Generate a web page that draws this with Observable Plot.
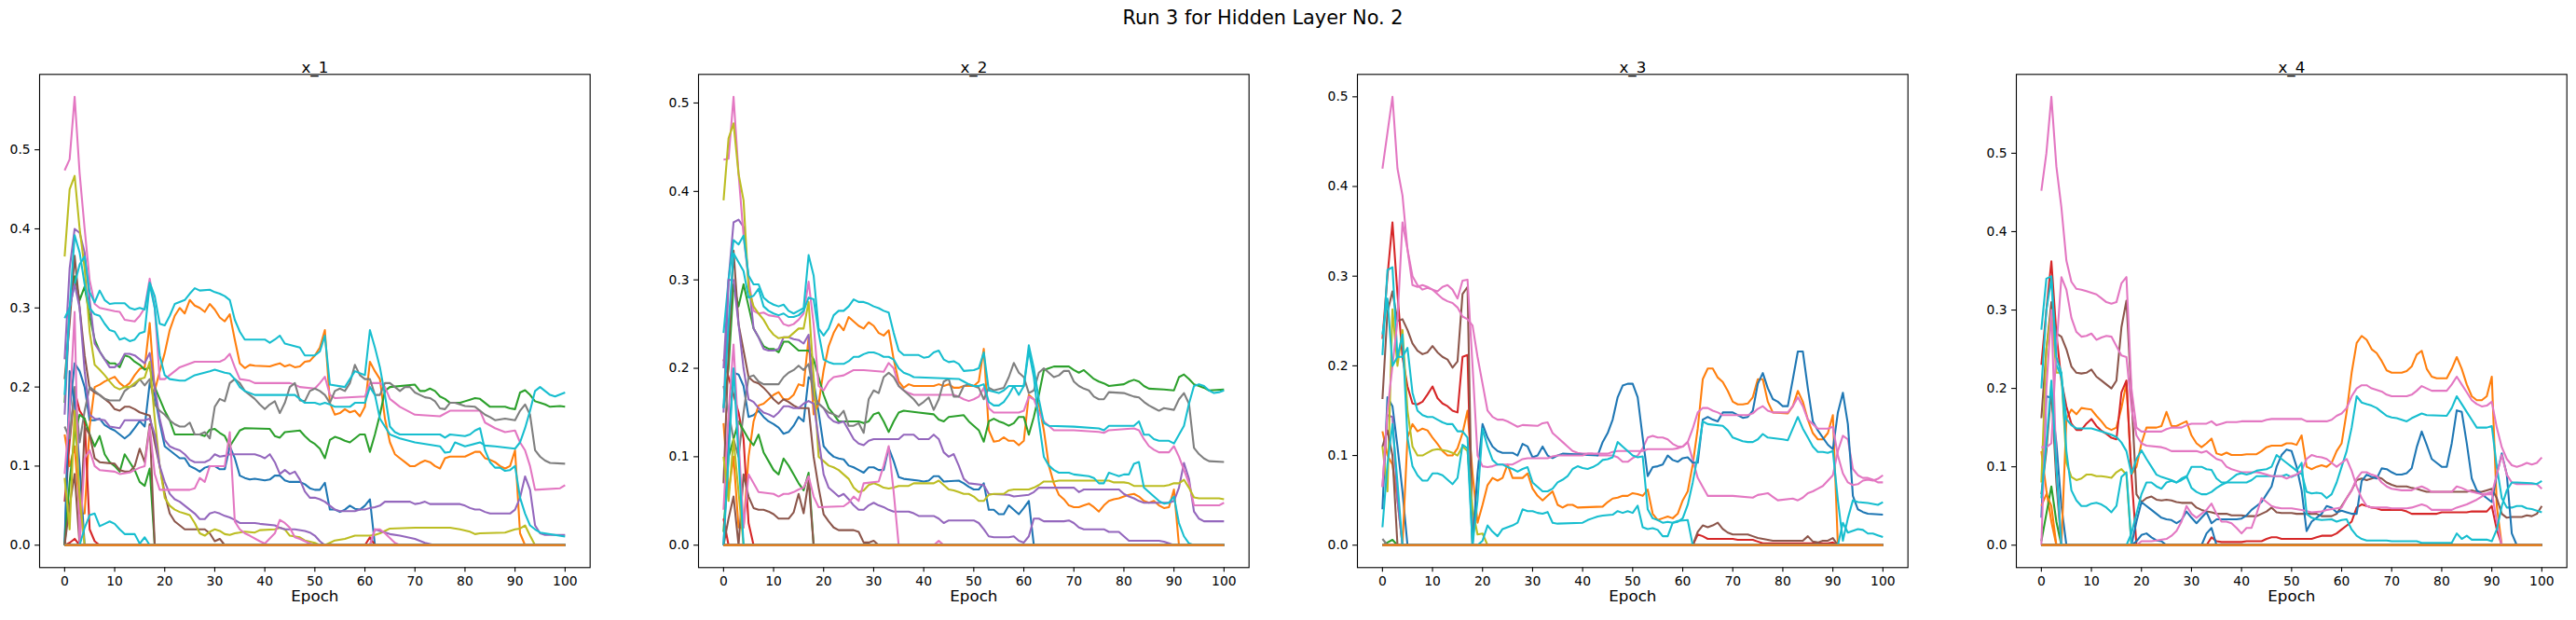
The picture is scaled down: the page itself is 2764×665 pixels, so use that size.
<!DOCTYPE html>
<html><head><meta charset="utf-8">
<script src="https://cdn.jsdelivr.net/npm/d3@7"></script>
<script src="https://cdn.jsdelivr.net/npm/@observablehq/plot@0.6"></script>
<style>
body{margin:0;background:#fff;}
#fig{position:relative;width:2764px;height:665px;background:#fff;overflow:hidden;}
.panel{position:absolute;top:0;}
#sup{position:absolute;left:0;top:0;}
</style></head><body><div id="fig"></div>
<script>
const tab10 = ["#1f77b4","#ff7f0e","#2ca02c","#d62728","#9467bd","#8c564b","#e377c2","#7f7f7f","#bcbd22","#17becf"];
const suptitle = "Run 3 for Hidden Layer No. 2";
const panelTitles = ["x_1","x_2","x_3","x_4"];
const xLabel = "Epoch";
const xTicks = [0,10,20,30,40,50,60,70,80,90,100];
const yTicks = [0,0.1,0.2,0.3,0.4,0.5];
const nSlots = 32;

// Each entry: [slot index (colour = tab10[slot % 10]), [epoch, value, epoch, value, ...]]
// Slots that are not listed stay at 0.0 for all epochs.
const x1Lines = [
[0,[0,0,1,0.17,2,0.23,3,0.22,4,0.2,5,0.158,6,0.158,7,0.16,8,0.152,9,0.148,10,0.145,11,0.14,12,0.135,13,0.14,14,0.148,15,0.157,16,0.15,17,0.205,18,0.19,19,0.155,20,0.125,21,0.12,22,0.115,23,0.11,24,0.11,25,0.1,26,0.097,27,0.093,28,0.098,29,0.1,30,0.1,31,0.096,32,0.096,33,0.125,34,0.11,35,0.088,36,0.085,37,0.083,38,0.084,40,0.082,41,0.083,42,0.088,43,0.088,44,0.082,45,0.08,47,0.08,48,0.077,49,0.072,50,0.07,51,0.07,52,0.079,53,0.045,54,0.045,55,0.042,56,0.045,57,0.05,58,0.046,59,0.045,60,0.05,61,0.058,62,0,100,0]],
[1,[0,0.14,1,0.1,2,0.125,3,0.04,4,0.04,5,0.15,6,0.2,7,0.203,8,0.207,9,0.21,10,0.213,11,0.205,12,0.2,13,0.205,14,0.215,15,0.223,16,0.225,17,0.281,18,0.195,19,0.22,20,0.243,21,0.272,22,0.29,23,0.3,24,0.293,25,0.31,26,0.303,27,0.3,28,0.295,29,0.305,30,0.298,31,0.288,32,0.283,33,0.292,34,0.26,35,0.23,36,0.224,37,0.228,38,0.227,41,0.226,42,0.228,43,0.23,44,0.226,45,0.228,46,0.225,47,0.226,48,0.232,49,0.233,50,0.24,51,0.25,52,0.272,53,0.18,54,0.165,55,0.167,56,0.172,57,0.168,58,0.17,59,0.163,60,0.175,61,0.232,62,0.22,63,0.21,64,0.16,65,0.13,66,0.115,67,0.11,68,0.105,69,0.1,70,0.1,71,0.104,72,0.107,73,0.105,74,0.1,75,0.097,76,0.11,77,0.112,80,0.112,81,0.115,82,0.118,83,0.118,84,0.11,85,0.108,86,0.105,87,0.1,88,0.097,89,0.1,90,0.12,91,0.015,92,0,100,0]],
[2,[0,0.18,1,0.3,2,0.34,3,0.31,4,0.327,5,0.29,6,0.26,7,0.245,8,0.235,9,0.23,10,0.23,11,0.225,12,0.24,13,0.238,14,0.232,15,0.228,16,0.222,17,0.225,18,0.2,19,0.185,20,0.17,21,0.158,22,0.14,27,0.14,28,0.138,29,0.146,30,0.147,31,0.142,32,0.138,33,0.125,34,0.135,35,0.145,36,0.148,41,0.147,42,0.138,43,0.136,44,0.143,47,0.145,48,0.138,49,0.132,50,0.128,51,0.122,52,0.11,53,0.133,54,0.137,55,0.135,56,0.132,57,0.13,58,0.135,59,0.14,60,0.14,61,0.118,62,0.14,63,0.165,64,0.195,65,0.2,70,0.203,71,0.195,72,0.195,73,0.198,74,0.195,75,0.188,76,0.185,77,0.18,79,0.18,80,0.182,81,0.184,82,0.186,83,0.185,84,0.18,85,0.175,88,0.175,89,0.173,90,0.172,91,0.193,92,0.196,93,0.19,94,0.182,95,0.18,96,0.178,97,0.175,99,0.176,100,0.175]],
[3,[0,0.055,1,0.13,2,0.195,3,0.17,4,0.16,5,0.02,6,0.005,7,0,100,0]],
[4,[0,0.235,1,0.35,2,0.4,3,0.395,4,0.37,5,0.31,6,0.255,7,0.245,8,0.235,9,0.225,10,0.225,11,0.23,12,0.242,13,0.242,14,0.24,15,0.235,16,0.23,17,0.243,18,0.2,19,0.16,20,0.133,21,0.125,22,0.122,23,0.12,24,0.115,25,0.108,26,0.105,28,0.105,29,0.108,30,0.115,31,0.112,32,0.113,33,0.115,38,0.115,39,0.113,40,0.11,41,0.115,42,0.105,43,0.09,44,0.095,45,0.09,46,0.093,47,0.083,48,0.068,49,0.06,50,0.06,51,0.058,52,0.055,53,0.05,54,0.045,55,0.043,58,0.043,59,0.045,60,0.045,61,0.047,62,0.048,63,0.05,64,0.055,69,0.055,70,0.052,71,0.053,72,0.055,73,0.052,79,0.052,80,0.05,81,0.047,82,0.045,83,0.045,84,0.042,85,0.04,89,0.04,90,0.045,91,0.06,92,0.087,93,0.07,94,0.025,95,0.015,96,0.013,100,0.013]],
[5,[0,0.21,1,0.28,2,0.366,3,0.3,4,0.24,5,0.198,6,0.193,7,0.19,8,0.185,9,0.18,10,0.172,11,0.17,12,0.175,13,0.175,14,0.172,15,0.168,16,0.166,17,0.164,18,0.13,19,0.1,20,0.065,21,0.04,22,0.03,23,0.025,24,0.02,28,0.02,29,0.015,30,0.005,31,0.008,32,0,100,0]],
[6,[0,0.474,1,0.488,2,0.567,3,0.47,4,0.4,5,0.335,6,0.305,7,0.3,10,0.296,11,0.295,12,0.285,14,0.283,15,0.29,16,0.3,17,0.337,18,0.3,19,0.21,20,0.21,21,0.215,22,0.22,23,0.225,26,0.232,31,0.232,32,0.235,33,0.242,34,0.225,35,0.21,37,0.208,38,0.205,45,0.205,46,0.203,47,0.2,50,0.198,51,0.205,52,0.213,53,0.19,54,0.186,60,0.188,61,0.205,63,0.205,64,0.2,65,0.185,67,0.175,70,0.165,75,0.163,77,0.17,83,0.17,84,0.155,86,0.148,88,0.143,90,0.145,91,0.13,92,0.12,93,0.1,94,0.07,99,0.072,100,0.076]],
[7,[0,0.15,1,0.135,2,0.2,3,0.13,4,0.17,5,0.2,6,0.195,7,0.19,8,0.185,9,0.183,11,0.183,12,0.195,13,0.2,14,0.202,15,0.21,16,0.202,17,0.21,18,0.178,19,0.17,20,0.165,21,0.158,22,0.153,23,0.15,24,0.15,25,0.155,26,0.14,27,0.14,28,0.143,29,0.135,30,0.175,31,0.185,32,0.182,33,0.205,34,0.21,35,0.205,36,0.195,37,0.19,38,0.185,39,0.178,40,0.172,41,0.178,42,0.182,43,0.167,44,0.18,45,0.2,46,0.205,47,0.183,48,0.182,49,0.195,50,0.198,51,0.195,52,0.19,53,0.18,54,0.195,55,0.198,56,0.195,57,0.205,58,0.228,59,0.215,60,0.21,61,0.21,62,0.19,63,0.19,64,0.205,65,0.205,66,0.2,67,0.195,68,0.2,69,0.2,70,0.193,71,0.19,72,0.187,73,0.186,74,0.182,75,0.173,76,0.172,77,0.18,78,0.18,79,0.178,80,0.176,82,0.175,83,0.17,84,0.165,85,0.162,86,0.158,88,0.16,90,0.158,91,0.17,92,0.178,93,0.165,94,0.12,95,0.112,96,0.107,97,0.104,100,0.103]],
[8,[0,0.365,1,0.45,2,0.467,3,0.4,4,0.35,5,0.27,6,0.228,7,0.222,8,0.215,9,0.207,10,0.2,11,0.197,12,0.2,13,0.2,14,0.205,15,0.21,16,0.212,17,0.232,18,0.16,19,0.1,20,0.06,21,0.05,22,0.045,23,0.042,24,0.04,25,0.038,26,0.028,27,0.015,28,0.012,29,0.017,30,0.02,31,0.018,32,0.014,33,0.013,34,0.015,36,0.017,38,0.016,39,0.019,42,0.02,43,0.022,44,0.02,45,0.012,47,0.01,48,0.006,50,0.003,51,0,52,0,53,0.003,54,0.006,56,0.008,57,0.01,58,0.012,61,0.012,62,0.013,63,0.015,64,0.018,65,0.021,70,0.022,77,0.022,79,0.02,81,0.017,82,0.014,83,0.015,88,0.016,90,0.02,91,0.021,92,0.025,93,0.012,94,0,100,0]],
[9,[0,0.287,1,0.3,2,0.33,3,0.355,4,0.365,5,0.32,6,0.307,7,0.322,8,0.31,9,0.305,10,0.306,12,0.306,13,0.3,14,0.298,15,0.3,16,0.298,17,0.332,18,0.315,19,0.28,20,0.278,21,0.29,22,0.305,24,0.31,25,0.318,26,0.325,27,0.322,29,0.323,30,0.32,31,0.318,32,0.315,33,0.31,34,0.285,35,0.27,36,0.26,40,0.26,41,0.256,42,0.26,43,0.265,44,0.255,47,0.25,48,0.24,50,0.24,51,0.245,52,0.265,53,0.203,56,0.2,57,0.21,58,0.22,60,0.215,61,0.272,62,0.25,63,0.225,64,0.19,65,0.15,66,0.143,67,0.14,75,0.14,76,0.136,77,0.14,80,0.138,81,0.14,82,0.145,83,0.148,84,0.12,85,0.105,86,0.098,87,0.098,88,0.094,89,0.095,90,0.1,91,0.06,92,0.04,93,0.025,94,0.02,95,0.016,100,0.011]],
[10,[0,0,1,0.22,2,0.18,3,0.1,4,0,100,0]],
[12,[0,0,1,0.08,2,0.14,3,0.165,4,0.16,5,0.14,6,0.125,7,0.138,8,0.115,9,0.105,10,0.1,11,0.093,12,0.115,13,0.105,14,0.095,15,0.08,16,0.075,17,0.097,18,0,100,0]],
[13,[0,0,1,0.003,2,0.008,3,0,60,0,61,0.01,62,0,100,0]],
[14,[0,0.165,1,0.3,2,0.33,3,0.3,4,0.22,5,0.165,6,0.16,8,0.158,9,0.15,11,0.148,12,0.158,16,0.158,17,0.16,18,0.14,19,0.1,20,0.08,21,0.065,22,0.058,23,0.055,24,0.05,25,0.045,26,0.04,27,0.033,28,0.033,29,0.04,30,0.042,31,0.04,32,0.037,33,0.035,34,0.032,35,0.028,38,0.028,39,0.027,42,0.025,43,0.022,44,0.02,46,0.02,48,0.018,49,0.016,50,0.012,51,0.005,52,0,61,0,62,0.02,63,0.018,65,0.014,67,0.012,70,0.008,72,0.003,74,0,100,0]],
[15,[0,0,1,0.05,2,0.09,3,0,4,0.15,5,0.14,6,0.11,7,0.105,10,0.103,11,0.095,12,0.093,13,0.093,14,0.1,15,0.122,16,0.105,17,0.153,18,0,100,0]],
[16,[0,0.09,1,0.17,2,0.295,3,0,4,0.11,5,0.12,6,0.1,7,0.095,10,0.093,11,0.09,13,0.092,14,0.095,15,0.098,16,0.1,17,0.15,18,0.09,19,0.07,25,0.07,26,0.072,27,0.085,28,0.08,29,0.1,32,0.1,33,0.143,34,0.03,35,0.02,36,0.015,37,0.012,39,0.005,40,0.002,42,0.015,43,0.032,44,0.028,45,0.022,46,0.01,47,0.008,49,0.002,50,0,61,0,62,0.02,63,0.02,64,0.015,66,0.003,67,0,100,0]],
[18,[0,0.085,1,0.02,2,0.17,3,0.06,4,0,100,0]],
[19,[0,0.19,1,0.3,2,0.392,3,0.37,4,0.33,5,0.3,6,0.292,7,0.29,8,0.28,9,0.272,10,0.27,11,0.26,12,0.262,13,0.258,14,0.26,15,0.268,16,0.27,17,0.33,18,0.3,19,0.24,20,0.215,21,0.21,23,0.208,24,0.208,26,0.215,29,0.22,30,0.222,32,0.218,33,0.217,34,0.21,35,0.2,36,0.195,38,0.19,46,0.19,47,0.185,48,0.18,50,0.18,51,0.178,52,0.18,53,0.178,54,0.175,57,0.175,58,0.18,60,0.18,61,0.2,62,0.19,63,0.16,65,0.14,67,0.135,70,0.13,75,0.125,76,0.117,77,0.118,78,0.13,80,0.125,83,0.13,84,0.126,86,0.125,90,0.122,91,0.13,92,0.148,93,0.17,94,0.195,95,0.2,97,0.19,98,0.188,100,0.193]],
[29,[0,0,3,0,4,0.022,5,0.038,6,0.04,7,0.024,8,0.027,9,0.03,10,0.027,11,0.02,12,0.014,14,0.014,15,0.002,16,0.01,17,0,100,0]]
];

const x2Lines = [
[0,[0,0,1,0.12,2,0.195,3,0.193,4,0.18,5,0.145,6,0.147,7,0.152,8,0.145,9,0.14,10,0.137,11,0.133,12,0.126,13,0.128,14,0.135,15,0.145,16,0.14,17,0.19,18,0.185,19,0.15,20,0.112,21,0.105,22,0.1,23,0.098,24,0.097,25,0.09,26,0.088,27,0.085,28,0.082,29,0.088,30,0.088,31,0.085,32,0.085,33,0.11,34,0.095,35,0.077,36,0.075,39,0.073,40,0.072,41,0.073,42,0.078,43,0.078,44,0.072,47,0.073,48,0.07,49,0.066,50,0.063,51,0.063,52,0.07,53,0.04,54,0.04,55,0.035,56,0.035,57,0.045,58,0.04,59,0.035,60,0.042,61,0.05,62,0,100,0]],
[1,[0,0.138,1,0.06,2,0.1,3,0.02,4,0.02,5,0.1,6,0.14,7,0.158,8,0.16,9,0.165,10,0.17,11,0.173,12,0.165,13,0.165,14,0.17,15,0.182,16,0.18,17,0.235,18,0.148,19,0.16,20,0.198,21,0.225,22,0.24,23,0.25,24,0.243,25,0.258,26,0.253,27,0.248,28,0.245,29,0.252,30,0.248,31,0.24,32,0.237,33,0.243,34,0.21,35,0.185,36,0.178,37,0.182,38,0.18,42,0.18,43,0.182,44,0.18,45,0.182,46,0.178,47,0.178,48,0.18,50,0.18,51,0.185,52,0.222,53,0.13,54,0.117,55,0.118,56,0.122,57,0.118,58,0.118,59,0.113,60,0.118,61,0.17,62,0.165,63,0.16,64,0.13,65,0.09,66,0.07,67,0.057,68,0.052,69,0.045,70,0.043,71,0.043,72,0.045,73,0.047,74,0.043,75,0.038,76,0.045,77,0.05,78,0.052,79,0.053,80,0.055,81,0.057,82,0.058,83,0.055,84,0.05,85,0.048,86,0.05,87,0.045,88,0.042,89,0.043,90,0.063,91,0,100,0]],
[2,[0,0.155,1,0.2,2,0.295,3,0.27,4,0.295,5,0.27,6,0.245,7,0.235,8,0.225,9,0.222,10,0.222,11,0.218,12,0.23,13,0.23,14,0.225,15,0.22,16,0.22,17,0.22,18,0.21,19,0.19,20,0.17,21,0.155,22,0.148,23,0.14,27,0.14,28,0.138,29,0.14,30,0.148,31,0.15,32,0.14,33,0.128,34,0.14,35,0.15,36,0.152,39,0.15,42,0.148,43,0.142,44,0.14,45,0.145,48,0.147,49,0.14,50,0.135,51,0.13,52,0.117,53,0.14,54,0.143,55,0.14,56,0.138,57,0.135,58,0.138,59,0.145,60,0.145,61,0.125,62,0.145,63,0.17,64,0.198,65,0.2,66,0.202,69,0.202,70,0.198,71,0.195,72,0.198,73,0.193,74,0.188,75,0.185,76,0.183,77,0.18,80,0.182,81,0.185,82,0.187,83,0.185,84,0.18,85,0.177,88,0.176,90,0.175,91,0.19,92,0.193,93,0.188,94,0.182,95,0.18,96,0.178,97,0.175,100,0.176]],
[3,[0,0.21,1,0.19,2,0.17,3,0.15,4,0.12,5,0.025,6,0,100,0]],
[4,[0,0.2,1,0.3,2,0.365,3,0.368,4,0.36,5,0.3,6,0.245,7,0.235,8,0.222,9,0.22,10,0.22,11,0.222,12,0.235,13,0.235,14,0.233,15,0.232,16,0.228,17,0.238,18,0.165,19,0.16,20,0.155,21,0.145,22,0.14,23,0.138,24,0.14,25,0.13,26,0.12,27,0.115,28,0.113,29,0.118,30,0.12,35,0.12,36,0.125,38,0.125,39,0.12,41,0.12,42,0.125,43,0.12,44,0.105,45,0.1,46,0.103,47,0.09,48,0.075,49,0.07,52,0.068,53,0.058,57,0.057,58,0.055,61,0.057,62,0.06,63,0.065,70,0.065,71,0.06,72,0.063,79,0.063,80,0.058,81,0.055,82,0.053,83,0.05,84,0.048,89,0.048,90,0.05,91,0.065,92,0.093,93,0.075,94,0.038,95,0.03,96,0.027,100,0.027]],
[5,[0,0.07,1,0.22,2,0.333,3,0.25,4,0.22,5,0.19,6,0.185,7,0.183,8,0.178,9,0.172,10,0.165,11,0.16,12,0.165,13,0.162,14,0.158,15,0.155,17,0.155,18,0.1,19,0.065,20,0.035,21,0.027,22,0.02,23,0.017,26,0.017,27,0.015,28,0.003,29,0.003,30,0.005,31,0,100,0]],
[6,[0,0.436,1,0.437,2,0.507,3,0.42,4,0.35,5,0.3,6,0.265,7,0.262,8,0.263,9,0.26,11,0.258,12,0.25,13,0.248,14,0.25,15,0.255,16,0.262,17,0.298,18,0.25,19,0.18,20,0.175,21,0.185,22,0.19,24,0.192,25,0.195,26,0.198,28,0.198,32,0.196,33,0.206,34,0.2,35,0.18,36,0.175,37,0.172,38,0.17,46,0.17,47,0.168,48,0.165,49,0.163,50,0.165,51,0.168,52,0.178,53,0.155,54,0.15,59,0.15,60,0.152,61,0.168,62,0.165,63,0.15,64,0.14,65,0.135,66,0.13,70,0.13,75,0.128,76,0.127,77,0.13,82,0.132,83,0.13,84,0.12,85,0.112,86,0.108,87,0.105,89,0.105,90,0.112,91,0.1,92,0.085,93,0.07,94,0.045,99,0.045,100,0.048]],
[7,[0,0.18,1,0.15,2,0.12,3,0.1,4,0.15,5,0.19,6,0.192,7,0.185,8,0.182,11,0.182,12,0.19,13,0.195,14,0.198,15,0.203,16,0.198,17,0.205,18,0.17,19,0.16,20,0.155,21,0.15,22,0.148,23,0.145,24,0.152,25,0.135,26,0.135,27,0.138,28,0.127,29,0.165,30,0.175,31,0.172,32,0.19,33,0.195,34,0.19,35,0.18,36,0.175,37,0.17,38,0.165,39,0.158,40,0.162,41,0.167,42,0.153,43,0.165,44,0.185,45,0.188,46,0.168,47,0.168,48,0.18,49,0.182,50,0.18,51,0.178,52,0.165,53,0.178,54,0.175,56,0.178,57,0.19,58,0.206,59,0.195,60,0.19,61,0.172,62,0.175,63,0.195,64,0.2,65,0.195,66,0.19,67,0.192,68,0.197,69,0.197,70,0.185,71,0.18,72,0.177,73,0.175,74,0.168,75,0.165,76,0.165,77,0.173,80,0.172,81,0.17,82,0.168,83,0.167,84,0.162,85,0.158,86,0.155,87,0.152,88,0.155,90,0.153,91,0.165,92,0.172,93,0.16,94,0.11,95,0.103,96,0.098,97,0.095,100,0.094]],
[8,[0,0.39,1,0.46,2,0.477,3,0.42,4,0.39,5,0.29,6,0.27,7,0.262,8,0.255,9,0.245,10,0.238,11,0.234,12,0.235,13,0.235,14,0.24,15,0.245,16,0.245,17,0.275,18,0.19,19,0.1,20,0.095,21,0.09,22,0.088,23,0.085,24,0.08,25,0.075,26,0.065,27,0.06,28,0.062,29,0.068,30,0.07,31,0.068,32,0.065,33,0.064,34,0.065,35,0.067,37,0.067,38,0.07,42,0.07,43,0.073,44,0.068,45,0.063,46,0.062,47,0.06,48,0.058,49,0.058,50,0.055,51,0.05,52,0.05,53,0.057,54,0.058,56,0.058,57,0.062,58,0.063,61,0.063,62,0.065,63,0.068,64,0.072,66,0.072,67,0.073,77,0.073,78,0.071,80,0.071,81,0.07,82,0.067,88,0.067,89,0.068,90,0.07,91,0.07,92,0.074,93,0.065,94,0.054,95,0.053,99,0.053,100,0.052]],
[9,[0,0.24,1,0.3,2,0.345,3,0.34,4,0.35,5,0.305,6,0.295,7,0.295,8,0.28,9,0.275,10,0.272,11,0.27,12,0.272,13,0.265,14,0.262,15,0.265,16,0.268,17,0.328,18,0.305,19,0.245,20,0.237,21,0.245,22,0.26,23,0.265,24,0.265,25,0.27,26,0.278,27,0.275,28,0.275,29,0.273,30,0.27,31,0.268,32,0.265,33,0.263,34,0.24,35,0.22,36,0.215,39,0.215,40,0.212,41,0.213,42,0.218,43,0.22,44,0.21,45,0.207,46,0.208,47,0.205,48,0.197,50,0.198,51,0.2,52,0.218,53,0.175,55,0.172,56,0.175,57,0.18,58,0.18,59,0.17,60,0.18,61,0.226,62,0.2,63,0.165,64,0.138,65,0.135,70,0.134,75,0.132,76,0.13,77,0.135,82,0.135,83,0.14,84,0.125,85,0.125,86,0.12,87,0.118,89,0.118,90,0.115,91,0.125,92,0.135,93,0.16,94,0.18,95,0.182,96,0.18,97,0.175,98,0.172,99,0.173,100,0.175]],
[12,[0,0.015,1,0.1,2,0.12,3,0.14,4,0.13,5,0.12,6,0.113,7,0.125,8,0.105,9,0.095,10,0.085,11,0.08,12,0.098,13,0.09,14,0.08,15,0.07,16,0.062,17,0.082,18,0,100,0]],
[13,[0,0.03,1,0,100,0]],
[14,[0,0.15,1,0.3,2,0.3,3,0.25,4,0.2,5,0.165,6,0.162,7,0.155,8,0.15,9,0.148,10,0.145,11,0.15,12,0.157,13,0.157,14,0.155,15,0.155,16,0.16,17,0.163,18,0.16,19,0.12,20,0.08,21,0.065,22,0.06,23,0.055,24,0.058,25,0.052,26,0.045,27,0.04,28,0.04,29,0.045,30,0.048,31,0.045,32,0.043,33,0.04,34,0.038,37,0.038,38,0.036,39,0.033,42,0.033,43,0.03,44,0.025,45,0.028,50,0.028,51,0.025,52,0.018,53,0.01,54,0.009,57,0.009,58,0.01,59,0.005,60,0.003,61,0.01,62,0.03,63,0.03,64,0.027,68,0.027,69,0.028,70,0.025,71,0.02,72,0.018,76,0.018,77,0.015,79,0.015,80,0.01,81,0.005,87,0.005,88,0.004,89,0.002,90,0,100,0]],
[15,[0,0,1,0.03,2,0.055,3,0,4,0.08,5,0.055,6,0.042,7,0.04,8,0.04,9,0.038,10,0.035,11,0.03,13,0.03,14,0.037,15,0.058,16,0.036,17,0.073,18,0,100,0]],
[16,[0,0.04,1,0.15,2,0.227,3,0.12,4,0.02,5,0.08,6,0.07,7,0.06,10,0.058,11,0.055,12,0.058,13,0.058,14,0.06,15,0.063,16,0.065,17,0.078,18,0.055,19,0.043,24,0.044,25,0.048,26,0.055,27,0.05,28,0.07,31,0.072,32,0.09,33,0.112,34,0.06,35,0,42,0,43,0.005,44,0,100,0]],
[18,[0,0.1,1,0.05,2,0.12,3,0.06,4,0,100,0]],
[19,[0,0.155,1,0.25,2,0.33,3,0.32,4,0.31,5,0.28,6,0.282,7,0.29,8,0.27,9,0.265,10,0.262,11,0.26,12,0.262,13,0.258,14,0.258,15,0.26,16,0.265,17,0.28,18,0.278,19,0.24,20,0.21,21,0.207,22,0.205,24,0.205,25,0.208,26,0.213,27,0.213,28,0.216,29,0.218,30,0.218,31,0.216,32,0.213,33,0.213,34,0.21,35,0.2,36,0.195,37,0.193,38,0.19,47,0.188,48,0.185,49,0.182,50,0.18,51,0.18,52,0.182,53,0.162,54,0.158,55,0.158,56,0.162,57,0.17,58,0.18,60,0.18,61,0.22,62,0.19,63,0.14,64,0.1,65,0.09,66,0.085,67,0.082,69,0.082,70,0.08,73,0.078,74,0.076,75,0.07,76,0.07,77,0.082,78,0.08,79,0.078,80,0.08,81,0.08,82,0.092,83,0.094,84,0.065,85,0.06,86,0.055,87,0.05,88,0.047,89,0.048,90,0.055,91,0.025,92,0.01,93,0.002,94,0,100,0]],
[29,[0,0,1,0.1,2,0.2,3,0.1,4,0,100,0]]
];

const x3Lines = [
[0,[0,0.04,1,0.165,2,0.155,3,0.11,4,0.06,5,0,100,0]],
[1,[0,0.127,1,0.1,2,0.09,3,0.05,4,0,5,0.12,6,0.135,7,0.127,8,0.13,9,0.128,10,0.12,11,0.113,12,0.105,13,0.1,14,0.1,15,0.108,16,0.125,17,0.15,18,0.08,19,0.025,20,0.045,21,0.067,22,0.075,23,0.072,24,0.075,25,0.09,26,0.075,28,0.075,29,0.08,30,0.063,31,0.055,32,0.05,33,0.055,34,0.06,35,0.045,36,0.042,37,0.045,38,0.045,39,0.042,44,0.043,45,0.048,46,0.052,47,0.053,48,0.055,49,0.055,50,0.058,51,0.057,52,0.055,53,0.062,54,0.035,55,0.028,56,0.03,57,0.032,58,0.03,59,0.035,60,0.05,61,0.06,62,0.09,63,0.13,64,0.185,65,0.197,66,0.197,67,0.187,68,0.182,69,0.172,70,0.16,71,0.157,72,0.157,73,0.158,74,0.165,75,0.185,76,0.185,77,0.16,78,0.148,81,0.147,82,0.155,83,0.172,84,0.16,85,0.14,86,0.125,87,0.118,88,0.118,89,0.125,90,0.145,91,0,100,0]],
[2,[0,0,1,0.003,2,0.006,3,0,100,0]],
[3,[0,0.23,1,0.3,2,0.36,3,0.28,4,0.21,5,0.177,6,0.158,7,0.157,8,0.16,9,0.168,10,0.177,11,0.164,12,0.158,13,0.155,14,0.15,15,0.148,16,0.21,17,0.212,18,0,62,0,63,0.012,64,0.01,65,0.007,70,0.007,71,0.006,74,0.006,75,0.004,76,0.002,89,0.002,90,0.003,91,0,100,0]],
[4,[0,0.065,1,0.145,2,0.143,3,0.05,4,0,100,0]],
[5,[0,0.163,1,0.26,2,0.283,3,0.25,4,0.252,5,0.24,6,0.225,7,0.217,8,0.213,9,0.215,10,0.222,11,0.215,12,0.21,13,0.207,14,0.198,15,0.205,16,0.28,17,0.288,18,0,62,0,63,0.015,64,0.022,65,0.02,66,0.022,67,0.025,68,0.018,69,0.014,70,0.012,73,0.012,74,0.01,75,0.008,76,0.007,77,0.006,78,0.005,84,0.005,85,0.01,86,0.004,87,0.003,88,0.005,89,0.005,90,0.008,91,0,100,0]],
[6,[0,0.42,1,0.46,2,0.5,3,0.42,4,0.39,5,0.33,6,0.3,7,0.29,8,0.285,9,0.287,10,0.285,11,0.28,12,0.275,13,0.272,14,0.27,15,0.265,16,0.255,17,0.252,18,0.245,19,0.21,20,0.18,21,0.15,22,0.143,23,0.14,24,0.14,25,0.138,26,0.135,27,0.132,28,0.134,31,0.133,32,0.136,33,0.137,34,0.125,35,0.12,36,0.115,37,0.11,38,0.105,39,0.103,40,0.102,42,0.102,43,0.1,46,0.1,47,0.098,48,0.093,49,0.093,50,0.097,51,0.1,52,0.108,53,0.12,54,0.122,55,0.12,56,0.12,57,0.118,58,0.113,59,0.11,60,0.11,61,0.115,62,0.095,63,0.075,64,0.065,65,0.055,70,0.055,74,0.053,75,0.056,76,0.057,77,0.058,78,0.054,79,0.05,82,0.052,83,0.05,84,0.053,85,0.058,86,0.06,87,0.063,88,0.066,89,0.072,90,0.078,91,0.105,92,0.122,93,0.118,94,0.085,95,0.078,96,0.075,97,0.075,98,0.073,99,0.07,100,0.07]],
[7,[0,0.007,1,0,100,0]],
[8,[0,0.11,1,0.06,2,0.263,3,0.2,4,0.24,5,0.15,6,0.11,7,0.1,8,0.1,9,0.103,10,0.106,11,0.107,12,0.106,13,0.105,14,0.103,15,0.1,16,0.11,17,0.105,18,0.04,19,0.012,20,0.013,21,0,100,0]],
[9,[0,0.212,1,0.307,2,0.31,3,0.21,4,0.21,5,0.22,6,0.17,7,0.15,8,0.145,9,0.143,10,0.143,11,0.14,12,0.137,13,0.135,14,0.135,15,0.127,16,0.127,17,0.12,18,0,100,0]],
[10,[0,0,18,0,19,0.08,20,0.135,21,0.12,22,0.11,23,0.105,24,0.103,26,0.103,27,0.1,28,0.113,29,0.11,30,0.098,31,0.1,32,0.11,33,0.1,34,0.097,35,0.1,36,0.102,43,0.1,44,0.115,45,0.125,46,0.14,47,0.165,48,0.178,49,0.18,50,0.18,51,0.165,52,0.12,53,0.077,54,0.087,55,0.088,56,0.09,57,0.1,58,0.095,59,0.093,60,0.097,61,0.098,62,0.092,63,0.092,64,0.14,65,0.143,66,0.14,67,0.138,68,0.148,70,0.148,71,0.145,72,0.142,73,0.143,74,0.15,75,0.18,76,0.192,77,0.175,78,0.163,79,0.16,80,0.155,81,0.155,82,0.185,83,0.216,84,0.216,85,0.175,86,0.138,87,0.128,88,0.12,89,0.112,90,0.107,91,0.148,92,0.17,93,0.135,94,0.055,95,0.04,96,0.037,97,0.035,100,0.034]],
[15,[0,0.11,1,0.128,2,0.1,3,0,100,0]],
[16,[0,0.065,1,0.15,2,0.2,3,0.25,4,0.36,5,0.33,6,0.29,7,0.288,8,0.29,9,0.288,10,0.285,11,0.283,12,0.288,13,0.29,14,0.285,15,0.275,16,0.295,17,0.296,18,0.2,19,0.1,20,0.088,21,0.087,22,0.088,23,0.09,26,0.09,27,0.093,28,0.096,29,0.097,33,0.097,34,0.099,35,0.1,40,0.1,41,0.102,45,0.102,46,0.104,47,0.105,52,0.105,53,0.107,58,0.107,59,0.108,60,0.11,61,0.115,62,0.13,63,0.148,64,0.153,65,0.153,66,0.15,67,0.148,68,0.145,73,0.145,74,0.147,75,0.152,76,0.155,77,0.15,78,0.148,81,0.148,82,0.155,83,0.165,84,0.155,85,0.14,86,0.135,87,0.13,89,0.13,90,0.132,91,0.1,92,0.08,93,0.07,94,0.067,95,0.068,96,0.072,97,0.073,98,0.072,99,0.074,100,0.078]],
[19,[0,0.235,1,0.275,2,0.2,3,0.21,4,0.235,5,0.12,6,0.088,7,0.078,8,0.072,9,0.072,10,0.08,11,0.08,12,0.078,13,0.073,14,0.068,15,0.075,16,0.112,17,0.108,18,0,19,0.05,20,0.13,21,0.11,22,0.095,23,0.09,24,0.09,25,0.087,26,0.085,27,0.082,28,0.085,29,0.087,30,0.07,31,0.065,32,0.06,33,0.06,34,0.063,35,0.07,36,0.073,37,0.077,38,0.085,39,0.088,40,0.086,41,0.085,42,0.087,43,0.09,44,0.095,45,0.096,46,0.098,47,0.115,48,0.11,49,0.105,50,0.1,51,0.098,52,0.099,53,0.04,54,0.03,55,0.028,56,0.025,57,0.026,58,0.025,59,0.026,60,0.03,61,0.045,62,0.07,63,0.1,64,0.138,65,0.135,68,0.133,69,0.128,70,0.12,71,0.118,72,0.116,73,0.115,74,0.115,75,0.118,76,0.124,77,0.12,80,0.118,81,0.117,82,0.13,83,0.143,84,0.13,85,0.12,86,0.11,87,0.104,88,0.104,89,0.103,90,0.105,91,0.05,92,0.005,93,0.03,94,0.05,95,0.048,97,0.047,99,0.045,100,0.048]],
[29,[0,0.02,1,0.09,2,0.135,3,0.07,4,0,19,0,20,0.005,21,0.022,22,0.015,23,0.01,24,0.018,25,0.02,26,0.022,27,0.025,28,0.04,29,0.038,30,0.038,31,0.036,32,0.035,33,0.037,34,0.025,35,0.024,40,0.025,41,0.028,42,0.03,43,0.032,44,0.033,46,0.034,47,0.038,48,0.036,49,0.038,50,0.036,51,0.044,52,0.02,53,0.018,54,0.019,55,0.017,56,0.01,57,0.01,58,0.025,59,0.027,61,0.028,62,0,91,0,92,0.025,93,0.014,95,0.018,96,0.017,97,0.013,98,0.013,99,0.011,100,0.009]]
];

const x4Lines = [
[0,[0,0.035,1,0.19,2,0.188,3,0.13,4,0.05,5,0,100,0]],
[1,[0,0.12,1,0.07,2,0.03,3,0,4,0,5,0.161,6,0.173,7,0.167,8,0.175,9,0.174,10,0.173,11,0.165,12,0.158,13,0.15,14,0.147,15,0.15,16,0.175,17,0.207,18,0.09,19,0.1,20,0.13,21,0.15,23,0.15,24,0.152,25,0.17,26,0.152,27,0.152,28,0.155,29,0.158,30,0.14,31,0.13,32,0.125,33,0.13,34,0.136,35,0.117,36,0.115,37,0.118,38,0.115,40,0.115,41,0.116,43,0.116,44,0.12,45,0.125,46,0.127,48,0.127,49,0.13,50,0.13,51,0.128,52,0.14,53,0.1,54,0.097,55,0.1,56,0.102,57,0.1,58,0.105,59,0.12,60,0.13,61,0.17,62,0.22,63,0.258,64,0.267,65,0.262,66,0.25,67,0.245,68,0.235,69,0.223,70,0.22,72,0.22,73,0.222,74,0.228,75,0.243,76,0.248,77,0.225,78,0.215,79,0.213,81,0.213,82,0.225,83,0.24,84,0.225,85,0.205,86,0.19,87,0.185,88,0.185,89,0.19,90,0.215,91,0.05,92,0,100,0]],
[2,[0,0.005,1,0.04,2,0.075,3,0.03,4,0,100,0]],
[3,[0,0.23,1,0.3,2,0.362,3,0.27,4,0.21,5,0.177,6,0.155,7,0.147,8,0.147,9,0.155,10,0.161,11,0.152,12,0.146,13,0.142,14,0.137,15,0.135,16,0.195,17,0.21,18,0.09,19,0,33,0,34,0.01,35,0.005,36,0.004,40,0.004,41,0.005,44,0.005,45,0.008,46,0.01,47,0.01,48,0.008,54,0.008,55,0.01,56,0.012,58,0.012,59,0.015,60,0.02,61,0.025,62,0.03,63,0.048,64,0.052,65,0.05,66,0.048,67,0.047,68,0.045,72,0.045,73,0.043,74,0.04,79,0.04,80,0.042,85,0.042,86,0.043,89,0.043,90,0.05,91,0.02,92,0,100,0]],
[5,[0,0.162,1,0.25,2,0.31,3,0.27,4,0.266,5,0.25,6,0.228,7,0.22,8,0.219,9,0.22,10,0.224,11,0.215,12,0.21,13,0.205,14,0.2,15,0.21,16,0.278,17,0.312,18,0.19,19,0.065,20,0.055,21,0.06,22,0.062,23,0.058,24,0.057,25,0.058,26,0.057,27,0.055,28,0.054,30,0.054,31,0.048,32,0.045,33,0.043,34,0.042,35,0.04,37,0.04,38,0.038,40,0.038,41,0.037,43,0.037,44,0.04,45,0.043,46,0.048,47,0.042,48,0.041,50,0.041,51,0.04,55,0.04,56,0.037,58,0.037,59,0.04,60,0.05,61,0.06,62,0.07,63,0.083,64,0.085,65,0.083,66,0.085,67,0.087,68,0.085,69,0.08,70,0.077,71,0.075,73,0.075,74,0.073,75,0.072,76,0.07,77,0.068,85,0.068,86,0.07,87,0.068,88,0.068,89,0.07,90,0.072,91,0.06,92,0.04,93,0.035,94,0.036,96,0.036,97,0.038,98,0.037,99,0.04,100,0.05]],
[6,[0,0.452,1,0.5,2,0.572,3,0.483,4,0.431,5,0.363,6,0.336,7,0.327,8,0.326,9,0.324,10,0.322,11,0.32,12,0.315,13,0.31,14,0.308,15,0.31,16,0.334,17,0.342,18,0.2,19,0.15,20,0.145,24,0.145,25,0.148,26,0.15,28,0.15,29,0.153,30,0.155,33,0.155,34,0.158,35,0.153,36,0.155,37,0.157,39,0.157,40,0.158,44,0.158,45,0.16,46,0.161,52,0.161,53,0.158,57,0.158,58,0.16,59,0.165,60,0.168,61,0.175,62,0.19,63,0.2,64,0.204,65,0.204,66,0.2,67,0.198,68,0.196,69,0.192,70,0.19,73,0.19,74,0.192,75,0.197,76,0.203,77,0.2,78,0.197,81,0.197,82,0.205,83,0.215,84,0.205,85,0.195,86,0.185,87,0.18,88,0.177,89,0.178,90,0.183,91,0.15,92,0.125,93,0.11,94,0.102,95,0.1,96,0.102,97,0.105,98,0.103,99,0.105,100,0.112]],
[8,[0,0.08,1,0.25,2,0.3,3,0.22,4,0.22,5,0.105,6,0.087,7,0.083,8,0.085,9,0.09,10,0.09,11,0.088,12,0.088,13,0.087,14,0.086,15,0.093,16,0.097,17,0.09,18,0,100,0]],
[9,[0,0.275,1,0.34,2,0.343,3,0.23,4,0.215,5,0.161,6,0.153,7,0.149,10,0.149,12,0.145,14,0.141,15,0.138,16,0.131,17,0.12,18,0.091,19,0.11,20,0.121,21,0.11,22,0.1,23,0.09,24,0.087,25,0.085,26,0.083,27,0.08,28,0.085,29,0.088,30,0.073,31,0.068,32,0.065,33,0.065,34,0.068,35,0.073,36,0.077,37,0.08,41,0.08,42,0.083,43,0.088,48,0.088,49,0.09,50,0.087,51,0.09,52,0.092,53,0.068,54,0.066,55,0.067,56,0.066,57,0.06,58,0.065,59,0.08,60,0.1,61,0.12,62,0.15,63,0.19,64,0.182,65,0.18,66,0.178,67,0.175,68,0.17,69,0.165,70,0.163,71,0.162,72,0.16,73,0.158,74,0.162,75,0.165,76,0.168,77,0.166,81,0.165,82,0.175,83,0.19,84,0.18,85,0.17,86,0.16,87,0.15,89,0.15,90,0.152,91,0.1,92,0.06,93,0.048,94,0.048,95,0.05,96,0.05,97,0.047,98,0.046,99,0.044,100,0.042]],
[10,[0,0,18,0,19,0.03,20,0.055,21,0.05,22,0.045,23,0.04,24,0.035,25,0.033,26,0.032,27,0.028,28,0.032,29,0.043,30,0.035,31,0.028,32,0.035,33,0.042,34,0.028,35,0.033,39,0.033,40,0.034,41,0.038,42,0.045,43,0.05,44,0.055,45,0.065,46,0.075,47,0.1,48,0.115,49,0.122,50,0.12,51,0.1,52,0.07,53,0.018,54,0.03,55,0.035,56,0.04,57,0.05,58,0.048,59,0.042,60,0.044,61,0.042,62,0.04,63,0.04,64,0.082,65,0.09,66,0.087,67,0.085,68,0.098,69,0.097,70,0.093,71,0.09,72,0.09,73,0.092,74,0.098,75,0.125,76,0.145,77,0.128,78,0.11,79,0.105,80,0.1,81,0.1,82,0.13,83,0.172,84,0.17,85,0.13,86,0.085,87,0.07,88,0.065,89,0.06,90,0.055,91,0.09,92,0.117,93,0.09,94,0.015,95,0,100,0]],
[11,[0,0.05,1,0.065,2,0.05,3,0,100,0]],
[15,[0,0.065,1,0.12,2,0.2,3,0.08,4,0,100,0]],
[16,[0,0.125,1,0.125,2,0.13,3,0.25,4,0.342,5,0.326,6,0.29,7,0.272,8,0.266,9,0.267,10,0.27,11,0.262,12,0.265,13,0.267,14,0.266,15,0.254,16,0.242,17,0.24,18,0.175,19,0.14,20,0.13,21,0.127,24,0.125,25,0.123,26,0.12,31,0.12,32,0.118,33,0.12,34,0.115,35,0.11,36,0.108,37,0.1,38,0.097,39,0.095,40,0.093,43,0.093,44,0.092,45,0.09,46,0.088,48,0.088,49,0.085,50,0.088,51,0.09,52,0.095,53,0.11,54,0.115,55,0.113,56,0.112,57,0.11,58,0.105,59,0.1,60,0.105,61,0.11,62,0.095,63,0.075,64,0.06,65,0.05,66,0.048,69,0.048,70,0.047,73,0.047,74,0.048,75,0.05,76,0.052,77,0.05,78,0.045,82,0.045,83,0.048,84,0.05,85,0.052,86,0.055,87,0.058,88,0.062,89,0.065,90,0.065,91,0.09,92,0.115,93,0.09,94,0.08,95,0.078,99,0.078,100,0.072]],
[19,[0,0.2,1,0.3,2,0.34,3,0.24,4,0.22,5,0.12,6,0.07,7,0.057,8,0.05,9,0.05,10,0.053,11,0.054,12,0.052,13,0.048,14,0.042,15,0.05,16,0.087,17,0.093,18,0,100,0]],
[20,[0,0,18,0,19,0.005,20,0.013,21,0.015,22,0.01,23,0.006,24,0.005,25,0,32,0,33,0.015,34,0.022,35,0,100,0]],
[26,[0,0,1,0.2,2,0.3,3,0.1,4,0,19,0,20,0.005,22,0.005,25,0.008,26,0.012,27,0.018,28,0.03,29,0.05,30,0.04,31,0.035,32,0.04,33,0.045,34,0.053,35,0.04,36,0.03,37,0.03,38,0.028,39,0.022,40,0.015,41,0.022,42,0.022,43,0.04,44,0.06,45,0.055,46,0.05,47,0.048,48,0.047,50,0.047,52,0.045,54,0.042,56,0.043,57,0.045,59,0.047,60,0.048,61,0.06,62,0.07,63,0.085,64,0.093,65,0.093,66,0.09,67,0.088,68,0.08,69,0.075,70,0.072,72,0.07,74,0.07,75,0.073,76,0.075,77,0.072,78,0.068,82,0.068,83,0.075,84,0.073,85,0.07,86,0.068,88,0.065,89,0.066,90,0.068,91,0.03,92,0,100,0]],
[29,[0,0.06,1,0.13,2,0.21,3,0.1,4,0,17,0,18,0.015,19,0.04,20,0.065,21,0.08,22,0.08,23,0.075,24,0.072,25,0.08,26,0.082,27,0.08,28,0.083,29,0.087,30,0.1,32,0.1,33,0.097,34,0.096,35,0.085,36,0.08,37,0.08,38,0.085,39,0.09,40,0.092,41,0.09,42,0.092,43,0.095,44,0.096,45,0.097,46,0.1,47,0.115,48,0.11,49,0.105,50,0.1,51,0.095,52,0.105,53,0.04,54,0.035,55,0.033,56,0.032,58,0.033,59,0.03,60,0.032,61,0.033,62,0.02,63,0.012,64,0.008,65,0.006,69,0.006,70,0.005,75,0.005,76,0.003,82,0.003,83,0.015,84,0.008,85,0.012,86,0.007,89,0.007,90,0.005,91,0.02,92,0.05,93,0.07,94,0.08,95,0.08,98,0.079,99,0.078,100,0.082]]
];

const panels = [x1Lines, x2Lines, x3Lines, x4Lines];

const FONT = "DejaVu Sans, sans-serif";
const frameLeft0 = 42.3, panelStep = 707, frameW = 590.7;
const frameTop = 79.3, frameBottom = 608.3, H = 665;
const mL = 52, mR = 14;

function toSlots(lines) {
  const slots = [];
  for (let s = 0; s < nSlots; s++) slots.push([{e: 0, v: 0}, {e: 100, v: 0}]);
  for (const [slot, flat] of lines) {
    const pts = [];
    for (let k = 0; k < flat.length; k += 2) pts.push({e: flat[k], v: flat[k + 1]});
    slots[slot] = pts;
  }
  return slots;
}

const fig = document.getElementById("fig");

panels.forEach((lines, i) => {
  const slots = toSlots(lines);
  const vmax = d3.max(slots.flat(), d => d.v);
  const yDomain = [-0.05 * vmax, 1.05 * vmax];
  const marks = slots.map((pts, s) => Plot.line(pts, {
    x: "e", y: "v", stroke: tab10[s % 10], strokeWidth: 2.08,
    strokeLinejoin: "round", strokeLinecap: "butt"
  }));
  marks.push(Plot.frame({stroke: "black", strokeWidth: 1.1}));
  marks.push(Plot.axisX(xTicks, {tickSize: 4.9, tickPadding: 4.9, strokeWidth: 1.1, fontSize: 13.9, tickFormat: d => String(d), label: null}));
  marks.push(Plot.axisY(yTicks, {tickSize: 4.9, tickPadding: 4.9, strokeWidth: 1.1, fontSize: 13.9, tickFormat: d => d.toFixed(1), label: null}));
  marks.push(Plot.text([panelTitles[i]], {frameAnchor: "top", dy: -14.1, fontSize: 16.7, fill: "black", text: d => d}));
  marks.push(Plot.text([xLabel], {frameAnchor: "bottom", dy: 36.7, fontSize: 16.7, fill: "black", text: d => d}));
  const chart = Plot.plot({
    width: mL + frameW + mR, height: H,
    marginLeft: mL, marginRight: mR, marginTop: frameTop, marginBottom: H - frameBottom,
    x: {domain: [-5, 105]},
    y: {domain: yDomain},
    style: {fontFamily: FONT, fontSize: "13.9px", color: "black", background: "transparent", overflow: "visible"},
    marks
  });
  chart.classList.add("panel");
  chart.style.left = (frameLeft0 + panelStep * i - mL) + "px";
  fig.appendChild(chart);
});

// Suptitle
const sup = d3.create("svg").attr("id", "sup").attr("width", 2764).attr("height", 40);
sup.append("text").attr("x", 1355).attr("y", 25.8).attr("text-anchor", "middle")
  .attr("font-family", FONT).attr("font-size", 20.8).attr("fill", "black").text(suptitle);
fig.appendChild(sup.node());
</script></body></html>
